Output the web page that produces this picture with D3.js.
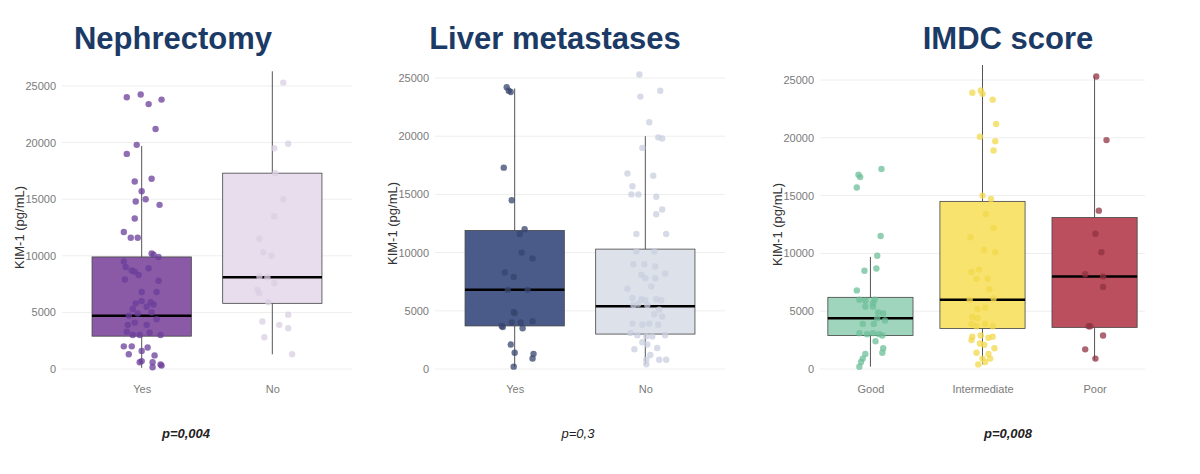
<!DOCTYPE html>
<html><head><meta charset="utf-8">
<script src="https://cdn.jsdelivr.net/npm/d3@7"></script>
<style>
body{margin:0;background:#fff;}
svg text{font-family:"Liberation Sans",Arial,sans-serif;}
</style></head><body>
<svg id="c" width="1200" height="474"></svg>
<script>
// ---- data ----
const yTicks = [0, 5000, 10000, 15000, 20000, 25000];

const nephCats = ["Yes", "No"];
const nephBoxes = [
  { low: 100, q1: 2900, med: 4700, q3: 9900, high: 19700 },
  { low: 1300, q1: 5800, med: 8100, q3: 17300, high: 26300 },
];
// [jitter (≈ % of box width), value]
const nephYes = [[-15,24000],[-1,24250],[7,23400],[20,23800],[14,21200],[-5,19800],[-15,19000],[-7,16570],[10,16800],[0,15700],[-6,14800],[4,15000],[18,14500],[-7,13300],[-18,12100],[-11,11600],[-4,11600],[10,10200],[12,10100],[17,9900],[-18,9500],[-16,9000],[-10,8700],[-7,8600],[-3,8300],[7,8900],[-17,7900],[17,7800],[15,6800],[0,6800],[-6,5800],[0,6000],[9,5900],[-9,5300],[5,5500],[12,5700],[-13,4700],[-4,4900],[10,5000],[-14,3900],[-7,4100],[5,3900],[15,4400],[-15,3300],[-9,3000],[-2,3000],[8,3200],[19,3000],[-18,2000],[-10,2000],[6,1900],[0,1600],[-13,1300],[13,1200],[0,700],[-2,600],[11,600],[19,400],[11,150],[20,300]];
const nephNo = [[11,25300],[16,19900],[2,19500],[3,17300],[11,15000],[2,13500],[-13,11500],[-9,10300],[-1,10000],[-13,8200],[-5,8100],[2,7600],[-15,7000],[-13,6700],[-4,5900],[-10,4200],[7,3900],[16,4800],[16,3600],[-8,2800],[20,1300]];

const liverCats = ["Yes", "No"];
const liverBoxes = [
  { low: 200, q1: 3700, med: 6800, q3: 11900, high: 24100 },
  { low: 400, q1: 3000, med: 5400, q3: 10300, high: 20000 },
];
const liverYes = [[-8,24200],[-6,23900],[-4,23800],[-11,17300],[-3,14500],[10,12000],[5,11600],[7,10000],[18,9500],[-10,8300],[-1,7900],[-7,6800],[13,6800],[-1,4900],[0,4800],[-3,4000],[6,4000],[18,4100],[-13,3700],[-12,3600],[8,3500],[-4,2100],[0,1400],[19,1300],[18,900],[-1,200]];
const liverNo = [[-6,25300],[-5,23400],[15,23900],[4,21200],[13,19900],[17,19800],[-3,19000],[-18,16800],[8,16600],[-13,15700],[-14,15000],[-7,15000],[11,14800],[17,13700],[11,13300],[-9,11600],[21,11600],[-9,10100],[9,10100],[-12,9000],[-1,9000],[10,8800],[-4,8100],[20,8200],[0,7800],[10,7800],[6,7100],[-18,6900],[-13,6100],[-4,6000],[0,5900],[11,6000],[16,5900],[-7,5600],[2,5500],[14,5100],[-12,5500],[9,4700],[17,4500],[-13,3900],[-3,3800],[4,3900],[13,3800],[-15,3100],[-8,2900],[1,2800],[7,2800],[20,2900],[-3,2300],[2,2100],[-11,1700],[12,1800],[5,1200],[14,800],[21,800],[1,800],[1,400]];

const imdcCats = ["Good", "Intermediate", "Poor"];
const imdcBoxes = [
  { low: 200, q1: 2900, med: 4400, q3: 6200, high: 9700 },
  { low: 400, q1: 3500, med: 6000, q3: 14500, high: 26300 },
  { low: 800, q1: 3600, med: 8000, q3: 13100, high: 25300 },
];
const imdcGood = [[-14,16800],[-12,16600],[-16,15700],[13,17300],[12,11500],[8,9800],[-7,8500],[7,8700],[-16,6800],[-13,6000],[-6,5900],[5,6000],[3,5700],[-6,5400],[3,5400],[9,4900],[15,4800],[8,4400],[-9,3900],[4,3900],[17,4200],[-13,3100],[-4,3000],[3,3100],[10,3000],[14,2900],[6,2400],[15,1800],[14,1400],[-6,1300],[-9,900],[-11,600],[-13,200]];
const imdcInt = [[-12,23900],[-2,24100],[0,23800],[12,23300],[16,21200],[-3,20100],[15,19700],[13,18900],[0,15000],[10,14700],[4,13400],[13,12200],[-14,11400],[2,10300],[15,10100],[-13,8400],[-4,8600],[-7,7800],[6,7800],[8,6900],[-15,6000],[13,6100],[-6,5200],[3,5300],[-12,4500],[-6,4400],[-13,3900],[-7,3700],[3,3900],[12,3700],[-12,2800],[-2,2900],[7,2700],[12,2800],[-13,2500],[-3,2200],[2,2100],[14,1800],[-7,1400],[7,1300],[0,900],[9,900],[3,600],[-5,400]];
const imdcPoor = [[2,25300],[14,19800],[5,13700],[1,11700],[8,10100],[-11,8200],[10,8000],[10,7100],[-7,3700],[-5,3700],[10,2900],[-11,1700],[1,900]];

const panels = [
  { title: "Nephrectomy", p: "p=0,004", pBold: true, cats: nephCats, boxes: nephBoxes,
    points: [nephYes, nephNo], fill: ["#8a5aa6", "#e7dded"], dot: ["#6a3d9a", "#d9cfe2"],
    left: 62, right: 352, pad: 0.61, top25: 86, titleX: 173, pX: 186 },
  { title: "Liver metastases", p: "p=0,3", pBold: false, cats: liverCats, boxes: liverBoxes,
    points: [liverYes, liverNo], fill: ["#4a5b8a", "#dde1ea"], dot: ["#37446e", "#c9cfe0"],
    left: 435, right: 725, pad: 0.61, top25: 78, titleX: 555, pX: 578 },
  { title: "IMDC score", p: "p=0,008", pBold: true, cats: imdcCats, boxes: imdcBoxes,
    points: [imdcGood, imdcInt, imdcPoor], fill: ["#9fd4bd", "#f8e36e", "#bb4f5d"], dot: ["#6cbf98", "#f1d84c", "#8f3341"],
    left: 820, right: 1145, pad: 0.45, top25: 80, titleX: 1008, pX: 1008 },
];

const svg = d3.select("#c");
const baseY = 369;

panels.forEach((P) => {
  const g = svg.append("g");
  const y = d3.scaleLinear().domain([0, 25000]).range([baseY, P.top25]);
  const x = d3.scalePoint().domain(P.cats).range([P.left, P.right]).padding(P.pad);
  const boxW = x.step() * 0.76;

  // title
  g.append("text").attr("x", P.titleX).attr("y", 49).attr("text-anchor", "middle")
    .style("font-family", "'Liberation Sans Narrow','Liberation Sans',sans-serif")
    .attr("font-size", 31).attr("font-weight", "bold").attr("fill", "#1c3a66").text(P.title);

  // grid
  g.selectAll(".grid").data(yTicks).join("line")
    .attr("x1", P.left).attr("x2", P.right).attr("y1", (d) => y(d)).attr("y2", (d) => y(d))
    .attr("stroke", "#eeeeee").attr("stroke-width", 1);

  // y axis
  const ax = g.append("g").attr("transform", `translate(${P.left - 2},0)`)
    .call(d3.axisLeft(y).tickValues(yTicks).tickSize(0).tickPadding(4).tickFormat(d3.format("d")));
  ax.select(".domain").remove();
  ax.selectAll("text").attr("fill", "#7a7a7a").attr("font-size", 11);

  g.append("text").attr("transform", `translate(${P.left - 38},${(baseY + P.top25) / 2}) rotate(-90)`)
    .attr("text-anchor", "middle").attr("font-size", 13).attr("fill", "#333").text("KIM-1 (pg/mL)");

  // x axis
  const xa = g.append("g").attr("transform", `translate(0,${baseY + 12})`)
    .call(d3.axisBottom(x).tickSize(0).tickPadding(4));
  xa.select(".domain").remove();
  xa.selectAll("text").attr("fill", "#7a7a7a").attr("font-size", 11);

  P.cats.forEach((c, i) => {
    const b = P.boxes[i];
    const cx = x(c);
    g.append("line").attr("x1", cx).attr("x2", cx).attr("y1", y(b.low)).attr("y2", y(b.q1))
      .attr("stroke", "#555").attr("stroke-width", 1);
    g.append("line").attr("x1", cx).attr("x2", cx).attr("y1", y(b.q3)).attr("y2", y(b.high))
      .attr("stroke", "#555").attr("stroke-width", 1);
    g.append("rect").attr("x", cx - boxW / 2).attr("width", boxW)
      .attr("y", y(b.q3)).attr("height", y(b.q1) - y(b.q3))
      .attr("fill", P.fill[i]).attr("stroke", "#444").attr("stroke-width", 0.8);
    g.append("line").attr("x1", cx - boxW / 2).attr("x2", cx + boxW / 2)
      .attr("y1", y(b.med)).attr("y2", y(b.med)).attr("stroke", "#000").attr("stroke-width", 2.5);

    g.selectAll(null).data(P.points[i]).join("circle")
      .attr("cx", (d) => cx + d[0] * boxW / 100)
      .attr("cy", (d) => y(d[1]))
      .attr("r", 3.2).attr("fill", P.dot[i]).attr("opacity", 0.75);
  });

  g.append("text").attr("x", P.pX).attr("y", 438).attr("text-anchor", "middle")
    .attr("font-size", 13).attr("font-style", "italic")
    .attr("font-weight", P.pBold ? "bold" : "normal").attr("fill", "#222").text(P.p);
});
</script>
</body></html>
